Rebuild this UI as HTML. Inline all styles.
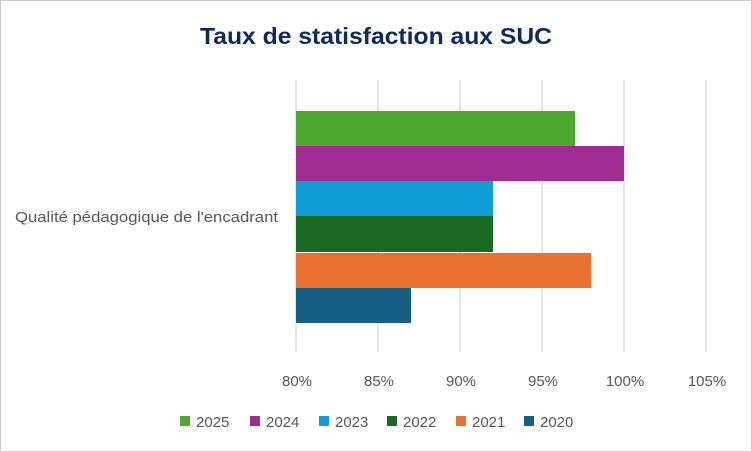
<!DOCTYPE html>
<html><head><meta charset="utf-8"><style>
body{margin:0;background:#fff;}
svg{display:block;}
</style></head><body>
<svg width="752" height="452" xmlns="http://www.w3.org/2000/svg" font-family="Liberation Sans, sans-serif">
<rect x="0.5" y="0.5" width="751" height="451" fill="#fff" stroke="#d0d0d0"/>
<text x="200" y="44" font-size="23" font-weight="bold" fill="#0e2a5c" textLength="352" lengthAdjust="spacingAndGlyphs">Taux de statisfaction  aux SUC</text>
<g stroke="#d9d9d9" stroke-width="1.3">
<line x1="296" y1="80" x2="296" y2="352"/>
<line x1="378" y1="80" x2="378" y2="352"/>
<line x1="460" y1="80" x2="460" y2="352"/>
<line x1="542" y1="80" x2="542" y2="352"/>
<line x1="624" y1="80" x2="624" y2="352"/>
<line x1="706" y1="80" x2="706" y2="352"/>
</g>
<rect x="296" y="111" width="279" height="35" fill="#4ea72e"/>
<rect x="296" y="146" width="328" height="35" fill="#a02b93"/>
<rect x="296" y="181" width="197" height="35" fill="#0f9ed5"/>
<rect x="296" y="216" width="197" height="36" fill="#196b24"/>
<rect x="296" y="253" width="295" height="35" fill="#e97132"/>
<rect x="296" y="288" width="115" height="35" fill="#156082"/>
<text x="15" y="222" font-size="15" fill="#595959" textLength="263" lengthAdjust="spacingAndGlyphs">Qualité pédagogique de l'encadrant</text>
<g font-size="15" fill="#595959" text-anchor="middle">
<text x="297" y="386">80%</text><text x="379" y="386">85%</text><text x="461" y="386">90%</text>
<text x="543" y="386">95%</text><text x="625" y="386">100%</text><text x="707" y="386">105%</text>
</g>
<g font-size="15" fill="#595959">
<rect x="180" y="416" width="10" height="10" fill="#4ea72e"/><text x="196" y="427">2025</text>
<rect x="250" y="416" width="10" height="10" fill="#a02b93"/><text x="266" y="427">2024</text>
<rect x="319" y="416" width="10" height="10" fill="#0f9ed5"/><text x="335" y="427">2023</text>
<rect x="387" y="416" width="10" height="10" fill="#196b24"/><text x="403" y="427">2022</text>
<rect x="456" y="416" width="10" height="10" fill="#e97132"/><text x="472" y="427">2021</text>
<rect x="524" y="416" width="10" height="10" fill="#156082"/><text x="540" y="427">2020</text>
</g>
</svg>
</body></html>
